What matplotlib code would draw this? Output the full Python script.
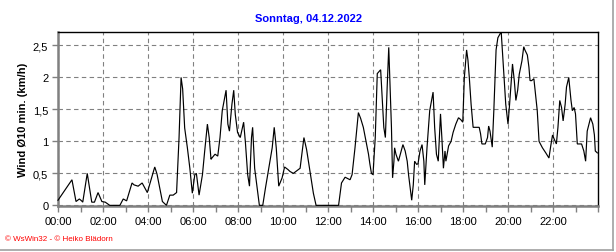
import matplotlib
matplotlib.use("Agg")
import matplotlib.pyplot as plt
from matplotlib.lines import Line2D
from matplotlib.ticker import FixedLocator, MultipleLocator

title = "Sonntag, 04.12.2022"
ylabel = "Wind Ø10 min. (km/h)"
credit = "© WsWin32 - © Heiko Blädorn"

hours = [
    0.0, 0.62, 0.8, 0.95, 1.05, 1.1, 1.3, 1.5, 1.62, 1.78,
    1.95, 2.1, 2.3, 2.75, 2.9, 3.05, 3.29, 3.38, 3.56, 3.74,
    3.97, 4.2, 4.3, 4.4, 4.64, 4.82, 4.97, 5.12, 5.27, 5.38,
    5.47, 5.54, 5.63, 5.75, 5.86, 5.97, 6.08, 6.15, 6.27, 6.42,
    6.52, 6.64, 6.72, 6.8, 6.84, 6.98, 7.1, 7.2, 7.3, 7.47,
    7.55, 7.62, 7.73, 7.81, 7.88, 7.98, 8.1, 8.25, 8.33, 8.43,
    8.51, 8.6, 8.65, 8.74, 8.85, 8.95, 9.1, 9.22, 9.37, 9.52,
    9.61, 9.7, 9.81, 9.96, 10.07, 10.22, 10.31, 10.46, 10.61, 10.76,
    10.93, 11.05, 11.2, 11.35, 11.47, 12.47, 12.6, 12.76, 12.98, 13.07,
    13.2, 13.35, 13.45, 13.57, 13.7, 13.8, 13.86, 13.93, 14.0, 14.1,
    14.19, 14.34, 14.4, 14.48, 14.55, 14.63, 14.7, 14.76, 14.82, 14.87,
    14.93, 14.96, 15.02, 15.13, 15.33, 15.43, 15.52, 15.58, 15.67, 15.72,
    15.79, 15.85, 15.94, 16.0, 16.09, 16.18, 16.26, 16.3, 16.4, 16.52,
    16.67, 16.74, 16.82, 16.9, 16.97, 17.0, 17.06, 17.13, 17.2, 17.24,
    17.36, 17.47, 17.56, 17.68, 17.8, 17.9, 17.99, 18.06, 18.16, 18.22,
    18.28, 18.36, 18.45, 18.6, 18.72, 18.78, 18.84, 18.99, 19.09, 19.14,
    19.2, 19.26, 19.3, 19.37, 19.47, 19.55, 19.66, 19.7, 19.76, 19.83,
    19.9, 20.0, 20.06, 20.16, 20.2, 20.28, 20.35, 20.43, 20.5, 20.62,
    20.7, 20.75, 20.86, 20.93, 20.98, 21.05, 21.15, 21.22, 21.3, 21.38,
    21.53, 21.68, 21.82, 21.9, 21.98, 22.06, 22.15, 22.22, 22.3, 22.38,
    22.45, 22.54, 22.6, 22.7, 22.8, 22.86, 22.94, 23.0, 23.08, 23.27,
    23.37, 23.45, 23.52, 23.67, 23.77, 23.84, 23.88, 23.97,
]
wind = [
    0.08, 0.4, 0.06, 0.1, 0.07, 0.05, 0.5, 0.05, 0.05, 0.2,
    0.06, 0.05, 0.0, 0.0, 0.1, 0.07, 0.35, 0.32, 0.3, 0.35,
    0.2, 0.48, 0.6, 0.49, 0.06, 0.0, 0.16, 0.16, 0.2, 1.06,
    2.0, 1.82, 1.21, 0.9, 0.58, 0.19, 0.48, 0.5, 0.16, 0.48,
    0.85, 1.27, 1.06, 0.72, 0.74, 0.8, 0.77, 1.06, 1.48, 1.8,
    1.27, 1.16, 1.58, 1.8, 1.42, 1.14, 1.06, 1.3, 0.98, 0.48,
    0.3, 1.06, 1.22, 0.58, 0.27, 0.0, 0.0, 0.27, 0.58, 0.9,
    1.22, 0.9, 0.3, 0.43, 0.6, 0.56, 0.53, 0.5, 0.54, 0.58,
    1.06, 0.87, 0.53, 0.19, 0.0, 0.0, 0.35, 0.44, 0.4, 0.48,
    0.9, 1.45, 1.36, 1.22, 0.98, 0.8, 0.65, 0.5, 0.48, 1.06,
    2.06, 2.12, 1.74, 1.22, 1.06, 1.85, 2.47, 1.85, 1.22, 0.43,
    0.69, 0.9, 0.8, 0.69, 0.95, 0.85, 0.69, 0.48, 0.22, 0.08,
    0.32, 0.69, 0.64, 0.65, 0.85, 0.95, 0.69, 0.32, 0.9, 1.48,
    1.77, 1.22, 0.8, 0.69, 1.22, 1.43, 1.06, 0.58, 0.85, 0.69,
    0.93, 1.0, 1.14, 1.27, 1.37, 1.34, 1.3, 2.0, 2.43, 2.27,
    2.0, 1.58, 1.22, 1.22, 1.22, 1.12, 0.96, 0.96, 1.06, 1.24,
    1.16, 1.01, 0.91, 1.48, 2.43, 2.62, 2.69, 2.7, 2.37, 2.0,
    1.58, 1.27, 1.53, 2.0, 2.21, 1.95, 1.64, 1.8, 2.05, 2.26,
    2.48, 2.43, 2.35, 2.16, 1.95, 1.95, 1.98, 1.74, 1.48, 1.0,
    0.9, 0.82, 0.74, 0.93, 1.1, 1.03, 0.96, 1.22, 1.64, 1.53,
    1.32, 1.58, 1.85, 2.0, 1.64, 1.48, 1.53, 1.43, 0.96, 0.96,
    0.85, 0.69, 1.16, 1.37, 1.27, 1.1, 0.85, 0.82,
]

xtick_pos = list(range(0, 24, 2))
xtick_labels = [f"{h:02d}:00" for h in xtick_pos]
ytick_pos = [0, 0.5, 1.0, 1.5, 2.0, 2.5]
ytick_labels = ["0", "0,5", "1", "1,5", "2", "2,5"]

plt.rcParams['font.family'] = ['Liberation Sans', 'DejaVu Sans']

W, H = 616, 253
fig = plt.figure(figsize=(W / 100, H / 100), dpi=100)
fig.patch.set_facecolor('white')
ax = fig.add_axes([58 / W, (H - 207) / H, 540 / W, 174 / H])

ax.plot(hours, wind, color='black', lw=0.85, solid_joinstyle='miter', zorder=3, clip_on=False)
ax.set_xlim(0, 24)
ax.set_ylim(-0.01, 2.71)

ax.xaxis.set_major_locator(FixedLocator(xtick_pos))
ax.set_xticklabels(xtick_labels, fontsize=8)
ax.xaxis.set_minor_locator(MultipleLocator(1))
ax.set_yticks(ytick_pos)
ax.set_yticklabels(ytick_labels, fontsize=8)

ax.tick_params(axis='both', which='both', direction='out', color='#808080', width=1)
ax.tick_params(axis='x', which='major', length=4, pad=3)
ax.tick_params(axis='x', which='minor', length=4)
ax.tick_params(axis='y', which='major', length=4, pad=3)

ax.grid(True, which='major', color='#808080', linestyle=(0, (4, 3)), lw=0.8)
ax.set_axisbelow(True)

for s in ['top', 'right']:
    ax.spines[s].set_color('black')
    ax.spines[s].set_linewidth(1.0)
for s in ['left', 'bottom']:
    ax.spines[s].set_color('#808080')
    ax.spines[s].set_linewidth(1.8)

ax.set_ylabel(ylabel, fontsize=8, fontweight='bold')
ax.yaxis.set_label_coords(-0.056, 0.5)
fig.text(309 / W, 1 - 19 / H, title, color='#0000FF', fontsize=8, fontweight='bold',
         ha='center', va='center')
fig.text(5 / W, 1 - 240 / H, credit, color='#FF0000', fontsize=5.8, ha='left', va='center')

fig.add_artist(Line2D([613 / W, 613 / W], [1 - 251 / H, 1], transform=fig.transFigure,
                      color='#a0a0a0', lw=1.2))
fig.add_artist(Line2D([0, 613 / W], [1 - 251 / H, 1 - 251 / H], transform=fig.transFigure,
                      color='#a0a0a0', lw=1.2))

fig.savefig('out.png', dpi=100)
